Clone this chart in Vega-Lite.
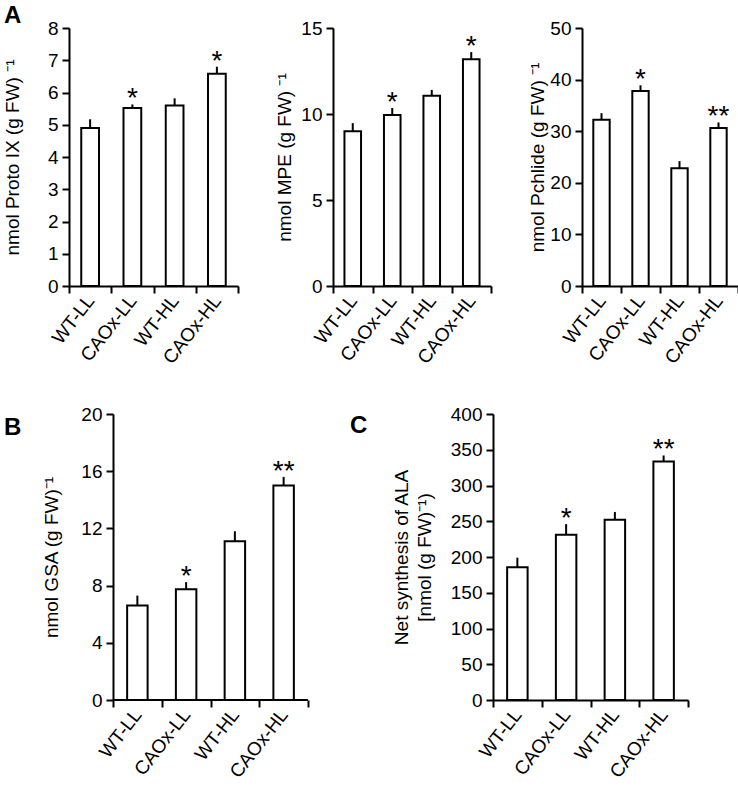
{
  "$schema": "https://vega.github.io/schema/vega-lite/v6.json",
  "background": "white",
  "padding": {"left": 3, "top": 4, "right": 0, "bottom": 0},
  "config": {
    "font": "Liberation Sans",
    "view": {"stroke": null},
    "axis": {"domainColor": "black", "domainWidth": 2, "tickColor": "black", "tickWidth": 2, "tickSize": 7, "labelColor": "black", "labelFont": "Liberation Sans", "labelFontSize": 19, "titleFont": "Liberation Sans", "titleFontSize": 19, "titleFontWeight": "normal", "titleColor": "black", "grid": false, "labelPadding": 4, "labelOverlap": false},
    "title": {"font": "Liberation Sans", "fontSize": 24, "fontWeight": "bold", "anchor": "start", "color": "black", "frame": "group", "offset": 0},
    "bar": {"fill": "white", "stroke": "black", "strokeWidth": 2},
    "rule": {"strokeWidth": 2, "color": "black"},
    "text": {"baseline": "alphabetic", "fontSize": 28, "dy": 3, "color": "black"}
  },
  "datasets": {
    "proto": [
      {"g": "WT-LL", "v": 4.9, "hi": 5.17, "sig": ""},
      {"g": "CAOx-LL", "v": 5.52, "hi": 5.63, "sig": "*"},
      {"g": "WT-HL", "v": 5.6, "hi": 5.82, "sig": ""},
      {"g": "CAOx-HL", "v": 6.58, "hi": 6.8, "sig": "*"}
    ],
    "mpe": [
      {"g": "WT-LL", "v": 9.0, "hi": 9.47, "sig": ""},
      {"g": "CAOx-LL", "v": 9.94, "hi": 10.35, "sig": "*"},
      {"g": "WT-HL", "v": 11.06, "hi": 11.4, "sig": ""},
      {"g": "CAOx-HL", "v": 13.18, "hi": 13.6, "sig": "*"}
    ],
    "pchlide": [
      {"g": "WT-LL", "v": 32.2, "hi": 33.5, "sig": ""},
      {"g": "CAOx-LL", "v": 37.8, "hi": 38.9, "sig": "*"},
      {"g": "WT-HL", "v": 22.8, "hi": 24.2, "sig": ""},
      {"g": "CAOx-HL", "v": 30.6, "hi": 31.7, "sig": "**"}
    ],
    "gsa": [
      {"g": "WT-LL", "v": 6.6, "hi": 7.3, "sig": ""},
      {"g": "CAOx-LL", "v": 7.75, "hi": 8.24, "sig": "*"},
      {"g": "WT-HL", "v": 11.1, "hi": 11.8, "sig": ""},
      {"g": "CAOx-HL", "v": 15.0, "hi": 15.6, "sig": "**"}
    ],
    "ala": [
      {"g": "WT-LL", "v": 185.5, "hi": 199, "sig": ""},
      {"g": "CAOx-LL", "v": 231, "hi": 246, "sig": "*"},
      {"g": "WT-HL", "v": 252, "hi": 263, "sig": ""},
      {"g": "CAOx-HL", "v": 333.6, "hi": 342, "sig": "**"}
    ]
  },
  "spacing": 37,
  "vconcat": [
    {
      "spacing": 36,
      "bounds": "full",
      "hconcat": [
        {
          "width": 169, "height": 258,
          "data": {"name": "proto"},
          "title": {"text": "A", "dx": -65, "dy": 13},
          "encoding": {"x": {"field": "g", "type": "nominal", "sort": null, "scale": {"paddingInner": 0, "paddingOuter": 0}, "axis": {"title": null, "labelAngle": -52, "labelFontSize": 19, "tickBand": "extent"}}},
          "layer": [
            {"mark": {"type": "bar", "width": {"band": 0.42}}, "encoding": {"y": {"field": "v", "type": "quantitative", "scale": {"domain": [0, 8], "nice": false}, "axis": {"title": "nmol Proto IX (g FW) ⁻¹", "values": [0,1,2,3,4,5,6,7,8], "titlePadding": 25}}}},
            {"mark": {"type": "rule"}, "encoding": {"y": {"field": "v", "type": "quantitative", "axis": {"title": "nmol Proto IX (g FW) ⁻¹", "values": [0,1,2,3,4,5,6,7,8], "titlePadding": 25}}, "y2": {"field": "hi"}}},
            {"mark": {"type": "text"}, "encoding": {"y": {"field": "hi", "type": "quantitative", "axis": {"title": "nmol Proto IX (g FW) ⁻¹", "values": [0,1,2,3,4,5,6,7,8], "titlePadding": 25}}, "text": {"field": "sig"}}}
          ]
        },
        {
          "width": 158, "height": 258,
          "data": {"name": "mpe"},
          "encoding": {"x": {"field": "g", "type": "nominal", "sort": null, "scale": {"paddingInner": 0, "paddingOuter": 0}, "axis": {"title": null, "labelAngle": -52, "labelFontSize": 19, "tickBand": "extent"}}},
          "layer": [
            {"mark": {"type": "bar", "width": {"band": 0.42}}, "encoding": {"y": {"field": "v", "type": "quantitative", "scale": {"domain": [0, 15], "nice": false}, "axis": {"title": "nmol MPE (g FW) ⁻¹", "values": [0,5,10,15], "titlePadding": 6}}}},
            {"mark": {"type": "rule"}, "encoding": {"y": {"field": "v", "type": "quantitative", "axis": {"title": "nmol MPE (g FW) ⁻¹", "values": [0,5,10,15], "titlePadding": 6}}, "y2": {"field": "hi"}}},
            {"mark": {"type": "text"}, "encoding": {"y": {"field": "hi", "type": "quantitative", "axis": {"title": "nmol MPE (g FW) ⁻¹", "values": [0,5,10,15], "titlePadding": 6}}, "text": {"field": "sig"}}}
          ]
        },
        {
          "width": 156, "height": 258,
          "data": {"name": "pchlide"},
          "encoding": {"x": {"field": "g", "type": "nominal", "sort": null, "scale": {"paddingInner": 0, "paddingOuter": 0}, "axis": {"title": null, "labelAngle": -52, "labelFontSize": 19, "tickBand": "extent"}}},
          "layer": [
            {"mark": {"type": "bar", "width": {"band": 0.42}}, "encoding": {"y": {"field": "v", "type": "quantitative", "scale": {"domain": [0, 50], "nice": false}, "axis": {"title": "nmol Pchlide (g FW) ⁻¹", "values": [0,10,20,30,40,50], "titlePadding": 2}}}},
            {"mark": {"type": "rule"}, "encoding": {"y": {"field": "v", "type": "quantitative", "axis": {"title": "nmol Pchlide (g FW) ⁻¹", "values": [0,10,20,30,40,50], "titlePadding": 2}}, "y2": {"field": "hi"}}},
            {"mark": {"type": "text"}, "encoding": {"y": {"field": "hi", "type": "quantitative", "axis": {"title": "nmol Pchlide (g FW) ⁻¹", "values": [0,10,20,30,40,50], "titlePadding": 2}}, "text": {"field": "sig"}}}
          ]
        }
      ]
    },
    {
      "spacing": 41,
      "bounds": "full",
      "hconcat": [
        {
          "width": 239, "height": 286,
          "data": {"name": "gsa"},
          "title": {"text": "B", "dx": -65, "dy": 39},
          "encoding": {"x": {"field": "g", "type": "nominal", "sort": null, "scale": {"paddingInner": 0, "paddingOuter": 0.4513, "align": 1}, "axis": {"title": null, "labelAngle": -52, "labelFontSize": 19, "tickBand": "extent", "domain": false}}},
          "layer": [
            {"mark": {"type": "bar", "width": {"band": 0.42}}, "encoding": {"y": {"field": "v", "type": "quantitative", "scale": {"domain": [0, 20], "nice": false}, "axis": {"title": "nmol GSA (g FW)⁻¹", "values": [0,4,8,12,16,20], "titlePadding": 19, "offset": -44}}}},
            {"mark": {"type": "rule"}, "encoding": {"y": {"field": "v", "type": "quantitative", "axis": {"title": "nmol GSA (g FW)⁻¹", "values": [0,4,8,12,16,20], "titlePadding": 19, "offset": -44}}, "y2": {"field": "hi"}}},
            {"mark": {"type": "text"}, "encoding": {"y": {"field": "hi", "type": "quantitative", "axis": {"title": "nmol GSA (g FW)⁻¹", "values": [0,4,8,12,16,20], "titlePadding": 19, "offset": -44}}, "text": {"field": "sig"}}},
            {"mark": {"type": "rule"}, "encoding": {"x": {"datum": "WT-LL", "type": "nominal", "bandPosition": 0}, "x2": {"datum": "CAOx-HL", "bandPosition": 1}, "y": {"datum": 0, "type": "quantitative", "axis": {"title": "nmol GSA (g FW)⁻¹", "values": [0,4,8,12,16,20], "titlePadding": 19, "offset": -44}}}}
          ]
        },
        {
          "width": 195, "height": 286,
          "data": {"name": "ala"},
          "title": {"text": "C", "dx": -143, "dy": 37},
          "encoding": {"x": {"field": "g", "type": "nominal", "sort": null, "scale": {"paddingInner": 0, "paddingOuter": 0}, "axis": {"title": null, "labelAngle": -52, "labelFontSize": 19, "tickBand": "extent"}}},
          "layer": [
            {"mark": {"type": "bar", "width": {"band": 0.42}}, "encoding": {"y": {"field": "v", "type": "quantitative", "scale": {"domain": [0, 400], "nice": false}, "axis": {"title": ["Net synthesis of ALA", "[nmol (g FW)⁻¹)"], "titleLineHeight": 23, "values": [0,50,100,150,200,250,300,350,400], "titlePadding": 16}}}},
            {"mark": {"type": "rule"}, "encoding": {"y": {"field": "v", "type": "quantitative", "axis": {"title": ["Net synthesis of ALA", "[nmol (g FW)⁻¹)"], "titleLineHeight": 23, "values": [0,50,100,150,200,250,300,350,400], "titlePadding": 16}}, "y2": {"field": "hi"}}},
            {"mark": {"type": "text"}, "encoding": {"y": {"field": "hi", "type": "quantitative", "axis": {"title": ["Net synthesis of ALA", "[nmol (g FW)⁻¹)"], "titleLineHeight": 23, "values": [0,50,100,150,200,250,300,350,400], "titlePadding": 16}}, "text": {"field": "sig"}}}
          ]
        }
      ]
    }
  ]
}
